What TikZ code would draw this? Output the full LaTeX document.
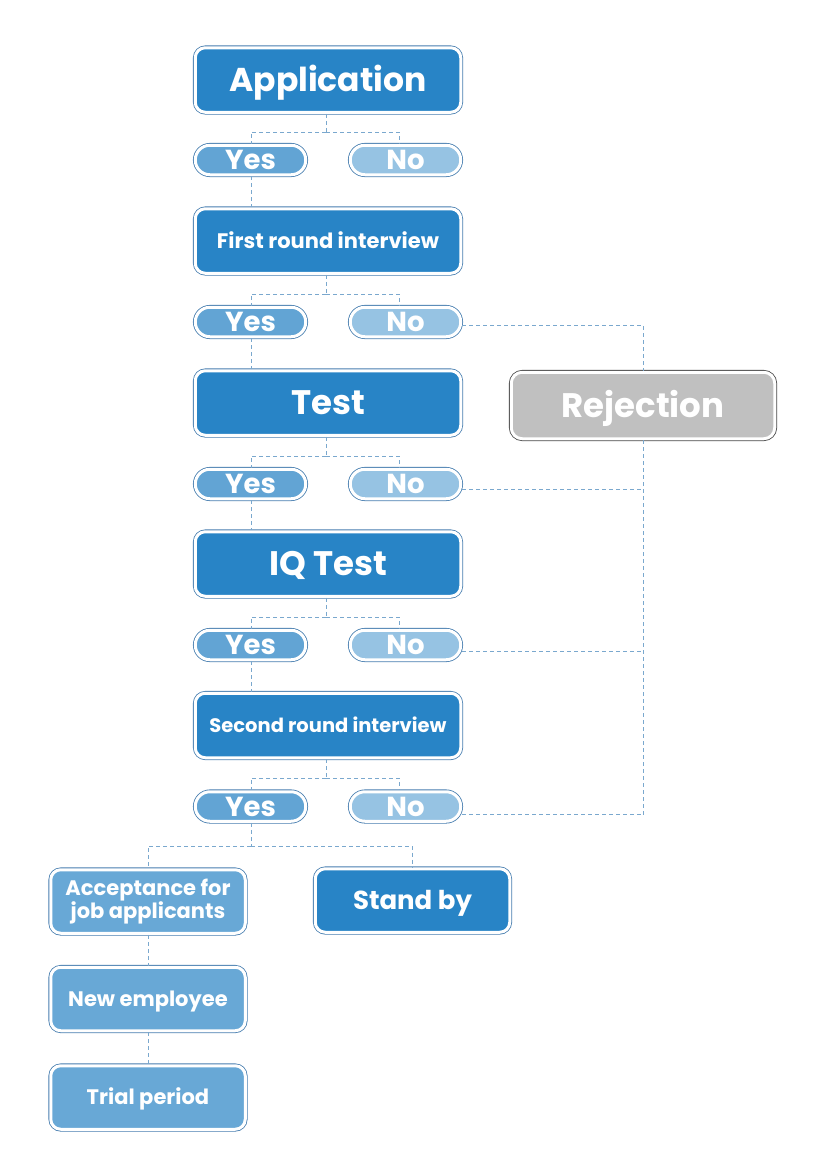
\documentclass[tikz,border=0pt]{standalone}
\usepackage{fontspec}
\setmainfont{Poppins}
\definecolor{darkblue}{RGB}{40,132,198}
\definecolor{yesfill}{RGB}{98,164,212}
\definecolor{nofill}{RGB}{150,195,227}
\definecolor{lightbox}{RGB}{104,168,214}
\definecolor{rejfill}{RGB}{192,192,192}
\definecolor{rejedge}{RGB}{70,70,70}
\definecolor{edgeblue}{RGB}{70,125,175}
\definecolor{conncol}{RGB}{122,168,206}
\newcommand{\fs}[1]{\fontsize{#1}{#1}\selectfont\bfseries}
\tikzset{
  cap/.style={text height=#1, text depth=0pt},
  basebox/.style={rectangle, inner sep=0pt, align=center, text=white,
    draw=white, line width=3pt, fill=#1,
    preaction={draw=edgeblue, line width=4.6pt}},
  bigbox/.style={basebox=darkblue, rounded corners=10pt,
    minimum width=265.5pt, minimum height=64.5pt},
  pill/.style={basebox=#1, rounded corners=14.7pt,
    minimum width=110.5pt, minimum height=29.5pt, font=\fs{27.5}, cap=19pt},
  smallbox/.style={basebox=#1, rounded corners=10pt,
    minimum width=194.5pt, minimum height=63.5pt, font=\fs{21}},
  rejbox/.style={rectangle, inner sep=0pt, align=center, text=white,
    draw=white, line width=3pt, fill=rejfill, rounded corners=11pt,
    preaction={draw=rejedge, line width=4.6pt},
    minimum width=263.5pt, minimum height=66.5pt, font=\fs{34}, cap=23.5pt},
  conn/.style={draw=conncol, line width=1pt, dash pattern=on 4pt off 3pt},
}
\begin{document}
\begin{tikzpicture}[x=1pt,y=-1pt]
\useasboundingbox (0,0) rectangle (828,1170);
% main column
\node[bigbox, font=\fs{33}, cap=23pt] (app) at (328,80) {Application};
\node[pill=yesfill] (yes1) at (250.5,160) {Yes};
\node[pill=nofill] (no1) at (405.5,160) {No};
\node[bigbox, font=\fs{21}, cap=14.5pt] (fri) at (328,241) {First round interview};
\node[pill=yesfill] (yes2) at (250.5,322) {Yes};
\node[pill=nofill] (no2) at (405.5,322) {No};
\node[bigbox, font=\fs{34}, cap=23.5pt] (test) at (328,403) {Test};
\node[pill=yesfill] (yes3) at (250.5,484) {Yes};
\node[pill=nofill] (no3) at (405.5,484) {No};
\node[bigbox, font=\fs{34}, cap=23.5pt] (iq) at (328,564) {IQ Test};
\node[pill=yesfill] (yes4) at (250.5,645) {Yes};
\node[pill=nofill] (no4) at (405.5,645) {No};
\node[bigbox, font=\fs{19.5}, cap=13.5pt] (sec) at (328,725.5) {Second round interview};
\node[pill=yesfill] (yes5) at (250.5,806.5) {Yes};
\node[pill=nofill] (no5) at (405.5,806.5) {No};
% bottom
\node[smallbox=lightbox, font=\fontsize{21}{18}\selectfont\bfseries] (acc) at (148,901.5) {Acceptance for\\job applicants};
\node[smallbox=darkblue, font=\fs{26}, cap=18pt] (stand) at (412.5,900.5) {Stand by};
\node[smallbox=lightbox, cap=14.5pt] (newe) at (148,999) {New employee};
\node[smallbox=lightbox, cap=14.5pt] (trial) at (148,1097.5) {Trial period};
% rejection
\node[rejbox] (rej) at (643,405.5) {Rejection};

% junction coordinates
\coordinate (j1) at (326,132);
\coordinate (j2) at (326,294);
\coordinate (j3) at (326,456);
\coordinate (j4) at (326,617);
\coordinate (j5) at (326,778);
\coordinate (j6) at (251,846);
\coordinate (n2) at ([yshift=-3pt]no2.east);
\coordinate (n3) at ([yshift=-5pt]no3.east);
\coordinate (n4) at ([yshift=-6pt]no4.east);
\coordinate (n5) at ([yshift=-8pt]no5.east);

% branch connectors
\foreach \b/\j/\y/\n in {app/j1/yes1/no1, fri/j2/yes2/no2, test/j3/yes3/no3, iq/j4/yes4/no4, sec/j5/yes5/no5}{
  \draw[conn] (\b.south -| \j) -- (\j);
  \draw[conn] (\j) -| ([xshift=0.5pt]\y.north);
  \draw[conn] (\j) -| ([xshift=-6.5pt]\n.north);
}
% yes to next
\draw[conn] ([xshift=0.5pt]yes1.south) -- ([xshift=0.5pt]yes1.south |- fri.north);
\draw[conn] ([xshift=0.5pt]yes2.south) -- ([xshift=0.5pt]yes2.south |- test.north);
\draw[conn] ([xshift=0.5pt]yes3.south) -- ([xshift=0.5pt]yes3.south |- iq.north);
\draw[conn] ([xshift=0.5pt]yes4.south) -- ([xshift=0.5pt]yes4.south |- sec.north);
\draw[conn] ([xshift=0.5pt]yes5.south) -- (j6);
\draw[conn] (j6) -| (acc.north);
\draw[conn] (j6) -| (stand.north);
\draw[conn] (acc.south) -- (newe.north);
\draw[conn] (newe.south) -- (trial.north);
% no to rejection
\draw[conn] (n2) -| (rej.north);
\draw[conn] (rej.south) -- (rej.south |- n5);
\draw[conn] (n3) -- (n3 -| rej.south);
\draw[conn] (n4) -- (n4 -| rej.south);
\draw[conn] (n5) -- (n5 -| rej.south);
\end{tikzpicture}
\end{document}
